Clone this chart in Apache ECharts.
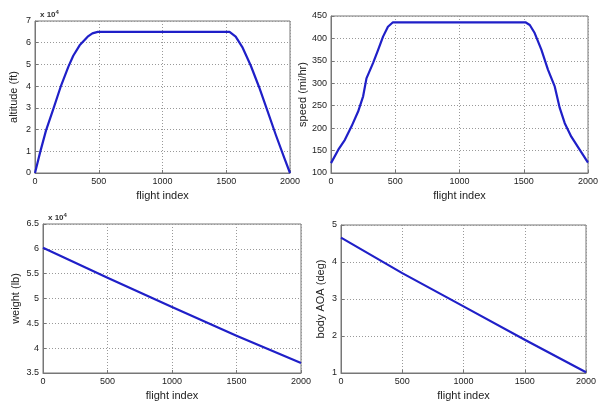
<!DOCTYPE html>
<html><head><meta charset="utf-8">
<script src="https://cdn.jsdelivr.net/npm/echarts@6/dist/echarts.min.js"></script>
<style>html,body{margin:0;padding:0;background:#fff}#c{width:602px;height:402px}</style>
</head><body><div id="c"></div>
<script>
const altIdx = [0, 40, 86, 144, 200, 262, 300, 350, 413, 450, 492, 1526, 1574, 1626, 1692, 1758, 1824, 1889, 1955, 2000];
const altVal = [0, 9500, 19500, 29500, 39500, 49000, 54000, 58800, 62800, 64300, 65000, 65000, 62800, 58000, 49500, 39500, 28500, 17500, 7000, 0];
const spdIdx = [0, 57, 108, 160, 211, 250, 276, 327, 366, 405, 443, 482, 1513, 1547, 1585, 1637, 1689, 1741, 1780, 1819, 1870, 1935, 2000];
const spdVal = [122, 152, 174, 204, 237, 271, 311, 345, 374, 404, 426, 436, 436, 430, 412, 375, 330, 293, 245, 211, 181, 152, 123];
const wtIdx = [0, 500, 1000, 1500, 2000];
const wtVal = [60200, 54200, 48300, 42500, 37000];
const aoaIdx = [0, 500, 1000, 1500, 2000];
const aoaVal = [4.66, 3.70, 2.80, 1.90, 1.02];
const xTicks = [0, 500, 1000, 1500, 2000];

function pairs(xs, ys) { return xs.map((x, i) => [x, ys[i]]); }

const chart = echarts.init(document.getElementById('c'));
const font = 'Liberation Sans, Arial, sans-serif';
const grids = [
  {left: 35, top: 21, width: 255, height: 152},
  {left: 331, top: 16, width: 257, height: 157},
  {left: 43, top: 224, width: 258, height: 153},
  {left: 341, top: 225, width: 245, height: 152}
];
const yCfg = [
  {min: 0, max: 70000, interval: 10000, name: 'altitude (ft)', fmt: v => String(v / 10000), gap: 16},
  {min: 100, max: 450, interval: 50, name: 'speed (mi/hr)', fmt: v => String(v), gap: 22},
  {min: 35000, max: 65000, interval: 5000, name: 'weight (lb)', fmt: v => String(v / 10000), gap: 22},
  {min: 1, max: 5, interval: 1, name: 'body AOA (deg)', fmt: v => String(v), gap: 15}
];
const datas = [pairs(altIdx, altVal), pairs(spdIdx, spdVal), pairs(wtIdx, wtVal), pairs(aoaIdx, aoaVal)];
const splitLine = {show: true, lineStyle: {color: '#999', type: [1, 2], width: 1}};
const rich = {a: {fontFamily: font, fontSize: 8, color: '#333'}, b: {fontFamily: font, fontSize: 6, color: '#333', verticalAlign: 'top', padding: [0, 0, 5, 0]}};
const option = {
  animation: false,
  backgroundColor: '#fff',
  grid: grids.map(g => Object.assign({show: true, borderColor: '#777', borderWidth: 1, containLabel: false}, g)),
  xAxis: grids.map((g, i) => ({
    gridIndex: i, type: 'value', min: 0, max: 2000, interval: 500,
    name: 'flight index', nameLocation: 'middle', nameGap: 17,
    nameTextStyle: {fontFamily: font, fontSize: 11, color: '#222'},
    axisLine: {show: true, lineStyle: {color: '#777'}},
    axisTick: {show: true, inside: true, length: 3, lineStyle: {color: '#777'}},
    axisLabel: {fontFamily: font, fontSize: 9, color: '#222', margin: 4, formatter: v => xTicks.includes(v) ? String(v) : ''},
    splitLine: splitLine
  })),
  yAxis: yCfg.map((c, i) => ({
    gridIndex: i, type: 'value', min: c.min, max: c.max, interval: c.interval,
    name: c.name, nameLocation: 'middle', nameGap: c.gap,
    nameTextStyle: {fontFamily: font, fontSize: 11, color: '#222'},
    axisLine: {show: true, lineStyle: {color: '#777'}},
    axisTick: {show: true, inside: true, length: 3, lineStyle: {color: '#777'}},
    axisLabel: {fontFamily: font, fontSize: 9, color: '#222', margin: 4, formatter: c.fmt},
    splitLine: splitLine
  })),
  title: [
    {left: 35, top: 4, text: '{a|x 10}{b|4}', textStyle: {rich: rich}},
    {left: 43, top: 207, text: '{a|x 10}{b|4}', textStyle: {rich: rich}}
  ],
  series: datas.map((d, i) => ({
    type: 'line', xAxisIndex: i, yAxisIndex: i, data: d, showSymbol: false,
    smooth: false,
    lineStyle: {color: '#1f1fc8', width: 2.2, join: 'round'}
  }))
};
chart.setOption(option);
</script></body></html>
